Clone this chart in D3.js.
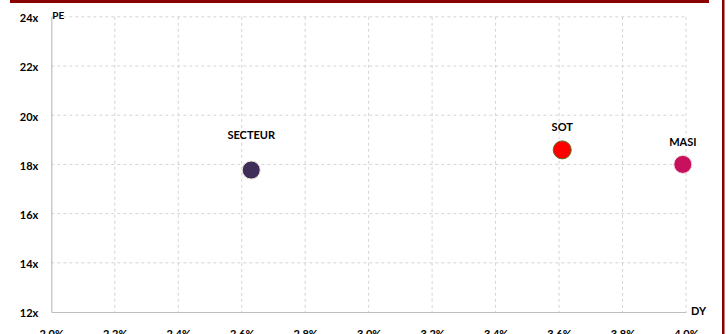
<!DOCTYPE html>
<html>
<head>
<meta charset="utf-8">
<script src="https://cdn.jsdelivr.net/npm/d3@7"></script>
<style>
  body { margin: 0; background: #fff; }
  svg { display: block; font-family: Lato, "Open Sans", sans-serif; font-weight: bold; }
</style>
</head>
<body>
<div id="wrapper"></div>
<script>
// data
const names = ["SECTEUR", "SOT", "MASI"];
const dyValues = [2.63, 3.61, 3.99];   // dividend yield, %
const peValues = [17.77, 18.59, 18.0]; // PE, x
const colors = ["#3f2d5a", "#ff0000", "#c8105e"];
const xTicks = [2.0, 2.2, 2.4, 2.6, 2.8, 3.0, 3.2, 3.4, 3.6, 3.8, 4.0];
const yTicks = [12, 14, 16, 18, 20, 22, 24];

const width = 728, height = 334;
const margin = {top: 16.8, right: 42, bottom: 22, left: 51.3};

const svg = d3.select("#wrapper")
  .append("svg")
  .attr("width", width)
  .attr("height", height);

const x = d3.scaleLinear().domain([2.0, 4.0]).range([margin.left, width - margin.right]);
const y = d3.scaleLinear().domain([12, 24]).range([height - margin.bottom, margin.top]);

// frame pieces
svg.append("rect").attr("x", 10).attr("y", 0).attr("width", 699).attr("height", 3).attr("fill", "#880000");
svg.append("rect").attr("x", 722).attr("y", 0).attr("width", 2.5).attr("height", height).attr("fill", "#880000");

// grid
svg.append("g").selectAll("line")
  .data(xTicks.slice(1))
  .join("line")
  .attr("x1", d => x(d)).attr("x2", d => x(d))
  .attr("y1", y(24)).attr("y2", y(12))
  .attr("stroke", "#d4d4d4").attr("stroke-dasharray", "3,3");

svg.append("g").selectAll("line")
  .data(yTicks.slice(1))
  .join("line")
  .attr("x1", x(2.0)).attr("x2", x(4.0))
  .attr("y1", d => y(d)).attr("y2", d => y(d))
  .attr("stroke", "#d4d4d4").attr("stroke-dasharray", "3,3");

// axes
const xAxis = svg.append("g")
  .attr("transform", `translate(0,${y(12)})`)
  .call(d3.axisBottom(x).tickValues(xTicks).tickSize(0).tickPadding(18).tickFormat(d => d.toFixed(1) + "%"));
const yAxis = svg.append("g")
  .attr("transform", `translate(${x(2.0)},0)`)
  .call(d3.axisLeft(y).tickValues(yTicks).tickSize(0).tickPadding(13).tickFormat(d => d + "x"));

[xAxis, yAxis].forEach(g => {
  g.select(".domain").attr("stroke", "#bfbfbf").attr("stroke-width", 1.2);
  g.selectAll("text").attr("font-size", 11).attr("font-family", "Lato, sans-serif").attr("font-weight", "bold").attr("fill", "#000");
});
yAxis.selectAll("text").attr("dy", "0.45em");

svg.append("text").attr("x", x(2.0) + 1).attr("y", y(24) + 2)
  .attr("font-size", 10).text("PE");
svg.append("text").attr("x", x(4.0) + 5).attr("y", y(12) + 3)
  .attr("font-size", 11).text("DY");

// points
const points = names.map((n, i) => ({name: n, dy: dyValues[i], pe: peValues[i], color: colors[i]}));
const labelGap = {SECTEUR: 35, SOT: 23, MASI: 22};
const strokeCol = {SECTEUR: "#e8e4d0", SOT: "#5a6b1e", MASI: "#f0e0e0"};

const g = svg.append("g").selectAll("g")
  .data(points)
  .join("g")
  .attr("transform", d => `translate(${x(d.dy)},${y(d.pe)})`);

g.append("circle")
  .attr("r", 9)
  .attr("fill", d => d.color)
  .attr("stroke", d => strokeCol[d.name])
  .attr("stroke-width", 1);

g.append("text")
  .attr("text-anchor", "middle")
  .attr("y", d => -labelGap[d.name] + 4)
  .attr("font-size", 11)
  .text(d => d.name);
</script>
</body>
</html>
